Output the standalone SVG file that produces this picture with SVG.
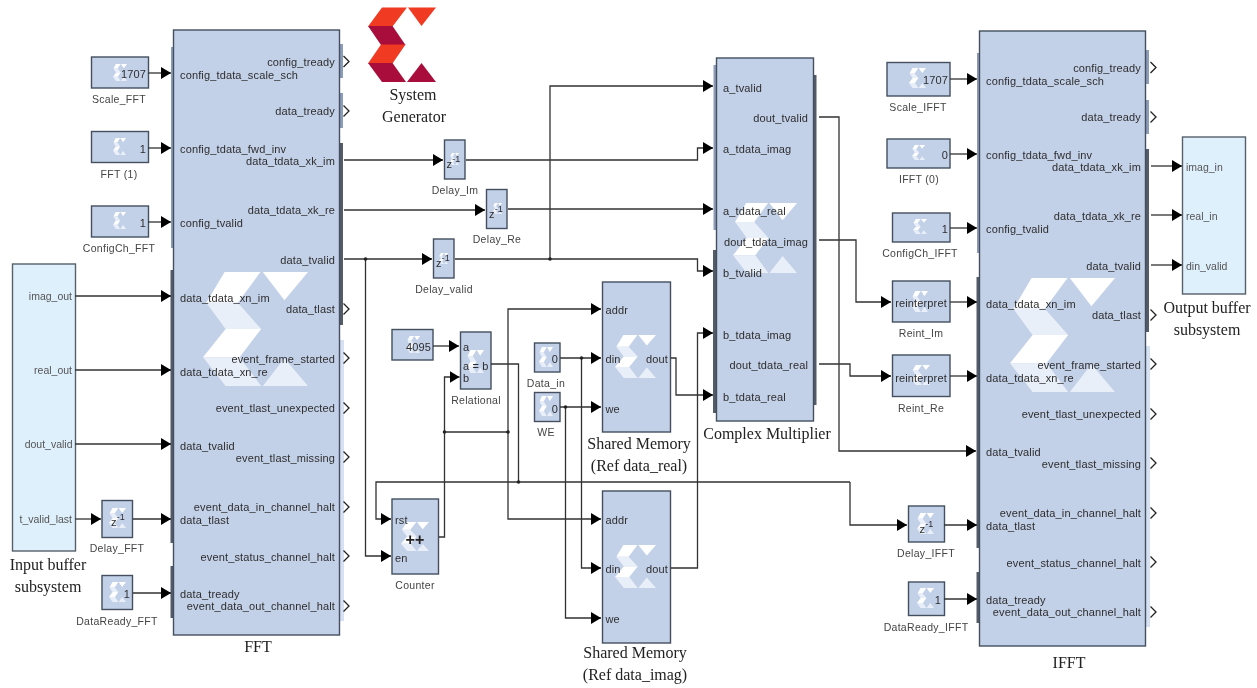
<svg xmlns="http://www.w3.org/2000/svg" width="1257" height="688" viewBox="0 0 1257 688">
<style>
text{font-family:"Liberation Sans",Arial,sans-serif;font-size:11px;fill:#2e2e2e;letter-spacing:.14px}
.end{text-anchor:end}
.mid{text-anchor:middle}
.cap{font-size:10.500px;fill:#444;text-anchor:middle;letter-spacing:.3px}
.big{font-family:"Liberation Serif","Times New Roman",serif;font-size:16px;fill:#222;text-anchor:middle;letter-spacing:0}
.buf{font-size:10.500px;fill:#555;letter-spacing:0}
.box{fill:#c2d0e8;stroke:#44505e;stroke-width:1.4}
.bufbox{fill:#dff0fd;stroke:#55606a;stroke-width:1.4}
.bl{fill:#8d9cb8}
.bd{fill:#535b68}
.bv{fill:#d6e2f3}
.ch{fill:none;stroke:#222;stroke-width:1.300}
.w{fill:none;stroke:#333;stroke-width:1.300}
.a{marker-end:url(#ah)}
.j{fill:#222}
</style>
<defs>
<marker id="ah" markerUnits="userSpaceOnUse" markerWidth="10" markerHeight="12" refX="10" refY="6" orient="auto"><path d="M0 0L10 6L0 12z" fill="#000"/></marker>
<symbol id="sigma" viewBox="0 0 316 340" preserveAspectRatio="none">
<path fill="#fff" d="M65 0H173L105 92H10z"/>
<path fill="#e9eff8" d="M10 92H105L175 170H68z"/>
<path fill="#fff" d="M68 170H175L110 254H0z"/>
<path fill="#e9eff8" d="M0 254H110L175 340H68z"/>
<path fill="#fff" d="M180 0H316L245 84z"/>
<path fill="#e9eff8" d="M180 340L245 257L316 340z"/>
</symbol>
<filter id="soft" x="0" y="0" width="100%" height="100%"><feGaussianBlur stdDeviation="0.4"/></filter>
</defs>
<rect width="1257" height="688" fill="#fff"/>
<g filter="url(#soft)">
<g id="logo">
<path fill="#f03a22" d="M382 7.500H407L392.500 26.500H368z"/>
<path fill="#a80c3a" d="M368 26H392.500L405.500 45H381z"/>
<path fill="#f03a22" d="M381 44.500H405.500L392.500 63.500H368z"/>
<path fill="#a80c3a" d="M368 63H392.500L406 82H382z"/>
<path fill="#f03a22" d="M408 7.500H436L421.500 26z"/>
<path fill="#a80c3a" d="M407 82L421.500 63L436 82z"/>
<text class="big" x="413" y="100">System</text>
<text class="big" x="414" y="122">Generator</text>
</g>

<g id="input-buffer">
<rect class="bufbox" x="12.500" y="264" width="63" height="287"/>
<text class="buf end" x="72" y="300">imag_out</text>
<text class="buf end" x="72" y="374">real_out</text>
<text class="buf end" x="72.500" y="448">dout_valid</text>
<text class="buf end" x="72" y="523">t_valid_last</text>
<text class="big" x="48" y="570">Input buffer</text>
<text class="big" x="48" y="592">subsystem</text>
</g>

<g id="fft">
<rect class="bl" x="171" y="47" width="2.500" height="201"/>
<rect class="bd" x="170.500" y="270" width="3" height="273"/>
<rect class="bd" x="170.500" y="566" width="3" height="52"/>
<rect class="bl" x="340" y="44" width="3" height="34"/>
<rect class="bl" x="340" y="93" width="3" height="35"/>
<rect class="bd" x="340" y="143" width="3" height="182"/>
<rect class="bv" x="340" y="340" width="4" height="281"/>
<rect class="box" x="173.500" y="30" width="166" height="605"/>
<use href="#sigma" x="203" y="272" width="105" height="114"/>
<text x="180" y="79">config_tdata_scale_sch</text>
<text x="180" y="153">config_tdata_fwd_inv</text>
<text x="180" y="227">config_tvalid</text>
<text x="180" y="302">data_tdata_xn_im</text>
<text x="180" y="376">data_tdata_xn_re</text>
<text x="180" y="450">data_tvalid</text>
<text x="180" y="524">data_tlast</text>
<text x="180" y="598">data_tready</text>
<text class="end" x="335" y="66">config_tready</text>
<text class="end" x="335" y="115">data_tready</text>
<text class="end" x="335" y="165">data_tdata_xk_im</text>
<text class="end" x="335" y="214">data_tdata_xk_re</text>
<text class="end" x="335" y="264">data_tvalid</text>
<text class="end" x="335" y="313">data_tlast</text>
<text class="end" x="335" y="363">event_frame_started</text>
<text class="end" x="335" y="412">event_tlast_unexpected</text>
<text class="end" x="335" y="462">event_tlast_missing</text>
<text class="end" x="335" y="511">event_data_in_channel_halt</text>
<text class="end" x="335" y="561">event_status_channel_halt</text>
<text class="end" x="335" y="610">event_data_out_channel_halt</text>
<path class="ch" d="M343.500 56L349 61.500L343.500 67M343.500 105.500L349 111L343.500 116.500M343.500 303.500L349 309L343.500 314.500M343.500 352.500L349 358L343.500 363.500M343.500 402.500L349 408L343.500 413.500M343.500 451.500L349 457L343.500 462.500M343.500 501.500L349 507L343.500 512.500M343.500 550.500L349 556L343.500 561.500M343.500 600.500L349 606L343.500 611.500"/>
<text class="big" x="258" y="652">FFT</text>
</g>

<g id="ifft">
<rect class="bl" x="977" y="53" width="2.500" height="200"/>
<rect class="bd" x="976.500" y="277" width="3" height="271"/>
<rect class="bd" x="976.500" y="572" width="3" height="51"/>
<rect class="bl" x="1146" y="50" width="3" height="34"/>
<rect class="bl" x="1146" y="100" width="3" height="34"/>
<rect class="bd" x="1146" y="149" width="3" height="183"/>
<rect class="bv" x="1146" y="346" width="4" height="281"/>
<rect class="box" x="979.500" y="31" width="166" height="615"/>
<use href="#sigma" x="1010" y="278" width="105" height="114"/>
<text x="986" y="85">config_tdata_scale_sch</text>
<text x="986" y="159">config_tdata_fwd_inv</text>
<text x="986" y="233">config_tvalid</text>
<text x="986" y="308">data_tdata_xn_im</text>
<text x="986" y="382">data_tdata_xn_re</text>
<text x="986" y="456">data_tvalid</text>
<text x="986" y="530">data_tlast</text>
<text x="986" y="604">data_tready</text>
<text class="end" x="1141" y="72">config_tready</text>
<text class="end" x="1141" y="121">data_tready</text>
<text class="end" x="1141" y="171">data_tdata_xk_im</text>
<text class="end" x="1141" y="220">data_tdata_xk_re</text>
<text class="end" x="1141" y="270">data_tvalid</text>
<text class="end" x="1141" y="319">data_tlast</text>
<text class="end" x="1141" y="369">event_frame_started</text>
<text class="end" x="1141" y="418">event_tlast_unexpected</text>
<text class="end" x="1141" y="468">event_tlast_missing</text>
<text class="end" x="1141" y="517">event_data_in_channel_halt</text>
<text class="end" x="1141" y="567">event_status_channel_halt</text>
<text class="end" x="1141" y="616">event_data_out_channel_halt</text>
<path class="ch" d="M1150.500 62L1156 67.500L1150.500 73M1150.500 111.500L1156 117L1150.500 122.500M1150.500 309.500L1156 315L1150.500 320.500M1150.500 358.500L1156 364L1150.500 369.500M1150.500 408.500L1156 414L1150.500 419.500M1150.500 457.500L1156 463L1150.500 468.500M1150.500 507.500L1156 513L1150.500 518.500M1150.500 556.500L1156 562L1150.500 567.500M1150.500 606.500L1156 612L1150.500 617.500"/>
<text class="big" x="1069" y="668">IFFT</text>
</g>

<g id="complex-multiplier">
<rect class="bl" x="713.500" y="65" width="2.500" height="165"/>
<rect class="bd" x="713" y="250" width="3" height="163"/>
<rect class="bd" x="813" y="75" width="3.500" height="330"/>
<rect class="box" x="716.500" y="58" width="97" height="363"/>
<use href="#sigma" x="733" y="203" width="64" height="70"/>
<text x="723" y="92">a_tvalid</text>
<text x="723" y="153">a_tdata_imag</text>
<text x="723" y="215">a_tdata_real</text>
<text x="723" y="277">b_tvalid</text>
<text x="723" y="339">b_tdata_imag</text>
<text x="723" y="401">b_tdata_real</text>
<text class="end" x="808" y="122">dout_tvalid</text>
<text class="end" x="808" y="246">dout_tdata_imag</text>
<text class="end" x="808" y="369">dout_tdata_real</text>
<text class="big" x="767" y="439">Complex Multiplier</text>
</g>

<g id="output-buffer">
<rect class="bufbox" x="1182.500" y="137" width="63" height="157"/>
<text class="buf" x="1186" y="171">imag_in</text>
<text class="buf" x="1186" y="220">real_in</text>
<text class="buf" x="1186" y="270">din_valid</text>
<text class="big" x="1207" y="313">Output buffer</text>
<text class="big" x="1207" y="335">subsystem</text>
</g>

<g id="shared-memory-real">
<rect class="box" x="602.500" y="282" width="68" height="150"/>
<use href="#sigma" x="615" y="335" width="41" height="43"/>
<text x="605.500" y="314">addr</text>
<text x="605.500" y="363">din</text>
<text x="605.500" y="413">we</text>
<text class="end" x="668" y="363">dout</text>
<text class="big" x="639" y="449">Shared Memory</text>
<text class="big" x="639" y="471">(Ref data_real)</text>
</g>
<g id="shared-memory-imag">
<rect class="box" x="602.500" y="491" width="68" height="152"/>
<use href="#sigma" x="615" y="545" width="41" height="43"/>
<text x="605.500" y="524">addr</text>
<text x="605.500" y="573">din</text>
<text x="605.500" y="623">we</text>
<text class="end" x="668" y="573">dout</text>
<text class="big" x="635" y="658">Shared Memory</text>
<text class="big" x="635" y="680">(Ref data_imag)</text>
</g>

<g id="scale-fft"><rect class="box" x="91.500" y="57" width="57" height="31"/><use href="#sigma" x="113" y="64" width="14" height="17"/><text class="end" x="146" y="78">1707</text><text class="cap" x="119" y="103">Scale_FFT</text></g>
<g id="fft-1"><rect class="box" x="91.500" y="131.500" width="57" height="31"/><use href="#sigma" x="113" y="138" width="13" height="17"/><text class="end" x="146" y="153">1</text><text class="cap" x="119" y="178">FFT (1)</text></g>
<g id="configch-fft"><rect class="box" x="91.500" y="206" width="57" height="31"/><use href="#sigma" x="113" y="212" width="13" height="17"/><text class="end" x="146" y="227">1</text><text class="cap" x="119" y="252">ConfigCh_FFT</text></g>
<g id="delay-fft"><rect class="box" x="102" y="500.500" width="30.500" height="37"/><use href="#sigma" x="109" y="508" width="17" height="20"/><text x="111" y="526">z<tspan font-size="9" dy="-6">-1</tspan></text><text class="cap" x="117" y="552">Delay_FFT</text></g>
<g id="dataready-fft"><rect class="box" x="102" y="575.500" width="30.500" height="34"/><use href="#sigma" x="109" y="582" width="17" height="20"/><text class="end" x="130" y="598">1</text><text class="cap" x="117" y="625">DataReady_FFT</text></g>

<g id="delay-im"><rect class="box" x="444.500" y="140" width="20.500" height="39"/><use href="#sigma" x="450" y="153" width="9" height="12"/><text x="446.500" y="168">z<tspan font-size="9" dy="-6">-1</tspan></text><text class="cap" x="455" y="194">Delay_Im</text></g>
<g id="delay-re"><rect class="box" x="486.500" y="189.500" width="20.500" height="39"/><use href="#sigma" x="493" y="203" width="9" height="11"/><text x="489" y="218">z<tspan font-size="9" dy="-6">-1</tspan></text><text class="cap" x="497" y="243">Delay_Re</text></g>
<g id="delay-valid"><rect class="box" x="433.500" y="239" width="20.500" height="39"/><use href="#sigma" x="439" y="253" width="9" height="11"/><text x="436" y="267">z<tspan font-size="9" dy="-6">-1</tspan></text><text class="cap" x="444" y="293">Delay_valid</text></g>

<g id="const-4095"><rect class="box" x="392" y="329.500" width="41" height="30.500"/><use href="#sigma" x="407" y="336" width="13" height="17"/><text class="end" x="431" y="351">4095</text></g>
<g id="relational"><rect class="box" x="460.500" y="332" width="30.500" height="57"/><use href="#sigma" x="467" y="350" width="17" height="23"/><text x="463" y="351">a</text><text x="463" y="370">a = b</text><text x="463" y="382">b</text><text class="cap" x="476" y="404">Relational</text></g>
<g id="data-in"><rect class="box" x="534.500" y="343" width="25.500" height="29"/><use href="#sigma" x="539" y="347" width="14" height="20"/><text class="end" x="558" y="363">0</text><text class="cap" x="546" y="387">Data_in</text></g>
<g id="we"><rect class="box" x="534.500" y="392.500" width="25.500" height="29"/><use href="#sigma" x="539" y="396" width="14" height="20"/><text class="end" x="558" y="413">0</text><text class="cap" x="546" y="436">WE</text></g>
<g id="counter"><rect class="box" x="392" y="499" width="46.500" height="75"/><use href="#sigma" x="401" y="522" width="28" height="29"/><text x="395" y="524">rst</text><text x="395" y="562">en</text><text class="mid" x="415" y="545" style="font-size:16px;font-weight:bold;fill:#222">++</text><text class="cap" x="415" y="589">Counter</text></g>

<g id="scale-ifft"><rect class="box" x="887" y="62.500" width="63" height="33.500"/><use href="#sigma" x="909" y="68" width="17" height="20"/><text class="end" x="948" y="84">1707</text><text class="cap" x="918" y="111">Scale_IFFT</text></g>
<g id="ifft-0"><rect class="box" x="887" y="139" width="63" height="29"/><use href="#sigma" x="912" y="145" width="13" height="15"/><text class="end" x="948" y="159">0</text><text class="cap" x="919" y="183">IFFT (0)</text></g>
<g id="configch-ifft"><rect class="box" x="892.500" y="213" width="57.500" height="29"/><use href="#sigma" x="913" y="219" width="14" height="15"/><text class="end" x="948" y="233">1</text><text class="cap" x="920" y="257">ConfigCh_IFFT</text></g>
<g id="reint-im"><rect class="box" x="892.500" y="281" width="57.500" height="41"/><use href="#sigma" x="912" y="291" width="16" height="21"/><text class="mid" x="921" y="307">reinterpret</text><text class="cap" x="921" y="337">Reint_Im</text></g>
<g id="reint-re"><rect class="box" x="892.500" y="355" width="57.500" height="41.500"/><use href="#sigma" x="912" y="365" width="18" height="20"/><text class="mid" x="921" y="382">reinterpret</text><text class="cap" x="921" y="412">Reint_Re</text></g>
<g id="delay-ifft"><rect class="box" x="908.500" y="506" width="36" height="36"/><use href="#sigma" x="917" y="513" width="17" height="21"/><text x="919.500" y="533">z<tspan font-size="9" dy="-6">-1</tspan></text><text class="cap" x="926" y="557">Delay_IFFT</text></g>
<g id="dataready-ifft"><rect class="box" x="908.500" y="582" width="36" height="33.500"/><use href="#sigma" x="917" y="588" width="17" height="20"/><text class="end" x="941" y="604">1</text><text class="cap" x="926" y="631">DataReady_IFFT</text></g>

<g id="connectors">
<path class="w a" d="M148 73H171"/>
<path class="w a" d="M148 148H171"/>
<path class="w a" d="M148 222H171"/>
<path class="w a" d="M75 296H171"/>
<path class="w a" d="M75 370H171"/>
<path class="w a" d="M75 444H171"/>
<path class="w a" d="M75 519H101"/>
<path class="w a" d="M133 519H171"/>
<path class="w a" d="M133 593H171"/>
<path class="w a" d="M344 160H443"/>
<path class="w a" d="M344 210H485"/>
<path class="w a" d="M344 259H432"/>
<path class="w a" d="M365.500 259V556H391"/>
<path class="w a" d="M466 160H697.500V148H713"/>
<path class="w a" d="M508 209H713"/>
<path class="w a" d="M455 259H697.500V271H713"/>
<path class="w a" d="M550 259V86H713"/>
<path class="w a" d="M433 346H459"/>
<path class="w a" d="M439 537H444.500V377H459.500"/>
<path class="w" d="M444.500 432H508"/>
<path class="w a" d="M508 432V309H601"/>
<path class="w a" d="M508 432V519H601"/>
<path class="w" d="M491 364H518.500V482"/>
<path class="w a" d="M850 482H376V519H391"/>
<path class="w a" d="M850 482V525H907"/>
<path class="w a" d="M560 358H601"/>
<path class="w a" d="M581.500 358V568H601"/>
<path class="w a" d="M560 407H601"/>
<path class="w a" d="M565.500 407V618H601"/>
<path class="w a" d="M670.500 358H676V395H713"/>
<path class="w a" d="M670.500 568H697.500V333H713"/>
<path class="w a" d="M819 117H839V451H976"/>
<path class="w a" d="M819 240H856V302H891"/>
<path class="w a" d="M819 364H850V376H891"/>
<path class="w a" d="M950 79H977"/>
<path class="w a" d="M950 154H977"/>
<path class="w a" d="M950 228H977"/>
<path class="w a" d="M950 302H977"/>
<path class="w a" d="M950 376H977"/>
<path class="w a" d="M944 525H977"/>
<path class="w a" d="M944 599H977"/>
<path class="w a" d="M1151 166H1182"/>
<path class="w a" d="M1151 215H1182"/>
<path class="w a" d="M1151 265H1182"/>
<circle class="j" cx="365.500" cy="259" r="1.800"/>
<circle class="j" cx="550" cy="259" r="1.800"/>
<circle class="j" cx="444.500" cy="432" r="1.800"/>
<circle class="j" cx="508" cy="432" r="1.800"/>
<circle class="j" cx="518.500" cy="482" r="1.800"/>
<circle class="j" cx="581.500" cy="358" r="1.800"/>
<circle class="j" cx="565.500" cy="407" r="1.800"/>
</g>
</g>
</svg>
